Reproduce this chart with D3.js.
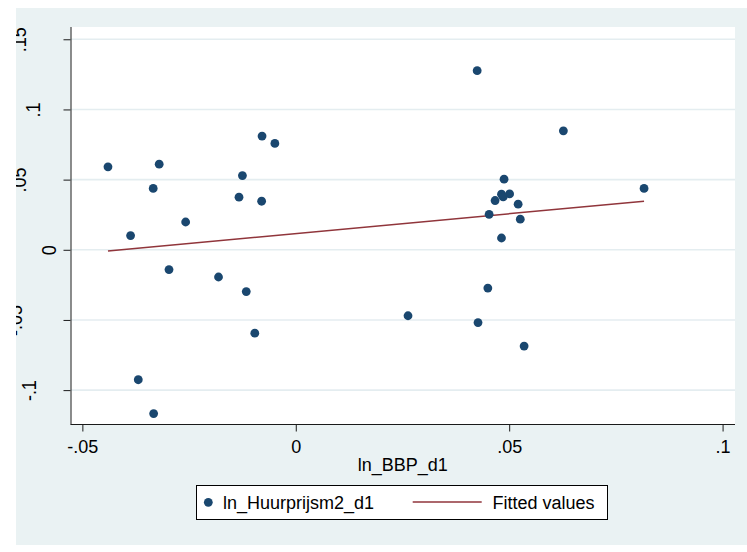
<!DOCTYPE html>
<html>
<head>
<meta charset="utf-8">
<script src="https://cdn.jsdelivr.net/npm/d3@7"></script>
<style>
  html, body { margin: 0; padding: 0; background: #ffffff; }
  svg { display: block; font-family: "Liberation Sans", Arial, sans-serif; }
</style>
</head>
<body>
<svg id="chart" width="747" height="552"></svg>
<script>
// ---------------- DATA ----------------
const seriesName = "ln_Huurprijsm2_d1";
const fitName = "Fitted values";
const xTitle = "ln_BBP_d1";

const xValues = [
  -0.0440, -0.0320, -0.0334, -0.0387, -0.0258, -0.0079, -0.0049, -0.0125, -0.0133, -0.0080,
  -0.0297, -0.0181, -0.0116, -0.0096, -0.0369, -0.0333,
   0.0425,  0.0627,  0.0488,  0.0482,  0.0501,  0.0486,  0.0467,  0.0521,  0.0453,  0.0526,
   0.0482,  0.0816,  0.0450,  0.0263,  0.0427,  0.0535
];
const yValues = [
   0.0591,  0.0610,  0.0437,  0.0101,  0.0198,  0.0810,  0.0758,  0.0529,  0.0375,  0.0346,
  -0.0141, -0.0194, -0.0298, -0.0594, -0.0926, -0.1167,
   0.1276,  0.0848,  0.0503,  0.0396,  0.0398,  0.0377,  0.0351,  0.0325,  0.0253,  0.0218,
   0.0084,  0.0437, -0.0273, -0.0470, -0.0519, -0.0686
];
const fitX = [-0.0440, 0.0816];
const fitY = [-0.0009, 0.0346];

const xTicks = [-0.05, 0, 0.05, 0.1];
const xTickLabels = ["-.05", "0", ".05", ".1"];
const yTicks = [-0.1, -0.05, 0, 0.05, 0.1, 0.15];
const yTickLabels = ["-.1", "-.05", "0", ".05", ".1", ".15"];

// ---------------- LAYOUT ----------------
const W = 747, H = 552;
const bg = { x: 16, y: 8, w: 731, h: 537 };
const plot = { left: 70.5, right: 735, top: 27, bottom: 424.5 };
const colors = {
  graphBg: "#eaf2f3",
  grid: "#e4edf0",
  marker: "#1a476f",
  fit: "#90353b",
  axis: "#1a1a1a"
};
// baseline x of each rotated y label (as in reference export)
const yLabelBaseX = { ".15": 25.5, ".1": 40, ".05": 25.5, "0": 55.5, "-.05": 22, "-.1": 36 };

const svg = d3.select("#chart");

svg.append("defs").append("clipPath").attr("id", "bgclip")
  .append("rect").attr("x", bg.x).attr("y", bg.y).attr("width", bg.w).attr("height", bg.h);

const g = svg.append("g").attr("clip-path", "url(#bgclip)");

g.append("rect").attr("x", bg.x).attr("y", bg.y).attr("width", bg.w).attr("height", bg.h)
  .attr("fill", colors.graphBg);

g.append("rect").attr("x", plot.left).attr("y", plot.top)
  .attr("width", plot.right - plot.left).attr("height", plot.bottom - plot.top)
  .attr("fill", "#ffffff");

const x = d3.scaleLinear().domain([-0.05278, 0.10291]).range([plot.left, plot.right]);
const y = d3.scaleLinear().domain([-0.1245, 0.15875]).range([plot.bottom, plot.top]);

// grid lines
g.append("g").selectAll("line").data(yTicks).join("line")
  .attr("x1", plot.left).attr("x2", plot.right)
  .attr("y1", d => y(d)).attr("y2", d => y(d))
  .attr("stroke", colors.grid).attr("stroke-width", 1.6);

// axes
const yAxis = d3.axisLeft(y).tickValues(yTicks).tickSize(7)
  .tickFormat((d, i) => yTickLabels[i]);
const yG = g.append("g").attr("transform", `translate(${plot.left},0)`).call(yAxis);
yG.select(".domain").attr("stroke", colors.axis).attr("d", `M0.5,${plot.top}V${plot.bottom}`);
yG.selectAll(".tick line").attr("stroke", colors.axis);
yG.selectAll(".tick text")
  .attr("font-size", 18)
  .attr("fill", "#000")
  .attr("text-anchor", "middle")
  .attr("dy", null)
  .attr("x", null)
  .attr("transform", (d, i) => `translate(${yLabelBaseX[yTickLabels[i]] - plot.left},0) rotate(-90) scale(1,1.08)`);

const xAxis = d3.axisBottom(x).tickValues(xTicks).tickSize(7)
  .tickFormat((d, i) => xTickLabels[i]);
const xG = g.append("g").attr("transform", `translate(0,${plot.bottom})`).call(xAxis);
xG.select(".domain").attr("stroke", colors.axis).attr("d", `M${plot.left},0H${plot.right}`);
xG.selectAll(".tick line").attr("stroke", colors.axis);
xG.selectAll(".tick text")
  .attr("font-size", 18)
  .attr("fill", "#000")
  .attr("dy", null)
  .attr("y", 453 - plot.bottom);

g.append("text").attr("x", (plot.left + plot.right) / 2).attr("y", 471)
  .attr("text-anchor", "middle").attr("font-size", 18).attr("fill", "#000").text(xTitle);

// fitted line
const pts = xValues.map((v, i) => ({ x: v, y: yValues[i] }));
const fitPts = fitX.map((v, i) => ({ x: v, y: fitY[i] }));
g.append("path").datum(fitPts)
  .attr("d", d3.line().x(d => x(d.x)).y(d => y(d.y)))
  .attr("fill", "none").attr("stroke", colors.fit).attr("stroke-width", 1.5);

// scatter
g.append("g").selectAll("circle").data(pts).join("circle")
  .attr("cx", d => x(d.x)).attr("cy", d => y(d.y)).attr("r", 4.4)
  .attr("fill", colors.marker);

// legend
const lg = g.append("g");
lg.append("rect").attr("x", 196.5).attr("y", 485.5).attr("width", 411).attr("height", 34)
  .attr("fill", "#fff").attr("stroke", "#000").attr("stroke-width", 1);
lg.append("circle").attr("cx", 208.3).attr("cy", 502.3).attr("r", 4.4).attr("fill", colors.marker);
lg.append("text").attr("x", 223).attr("y", 509).attr("font-size", 18).attr("fill", "#000").text(seriesName);
lg.append("line").attr("x1", 412.7).attr("x2", 481.7).attr("y1", 502).attr("y2", 502)
  .attr("stroke", colors.fit).attr("stroke-width", 1.5);
lg.append("text").attr("x", 492.5).attr("y", 509).attr("font-size", 18).attr("fill", "#000").text(fitName);
</script>
</body>
</html>
